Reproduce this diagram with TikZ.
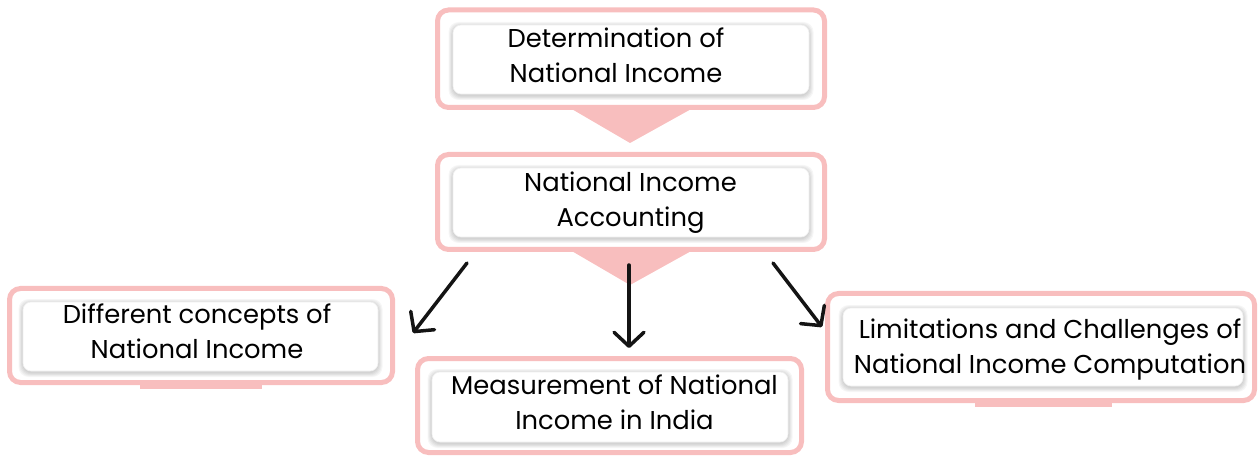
\documentclass[tikz,border=0pt]{standalone}
\usepackage{fontspec}
\setmainfont{Poppins}
\usetikzlibrary{arrows.meta}
\definecolor{pinkc}{RGB}{248,190,190}
\newcommand\myshadowbox[5]{%
  \foreach \k in {1,...,5}{%
    \fill[black,opacity=0.035,rounded corners=10pt]
      (#2-#4/2-\k*0.9, #3-#5/2-\k*0.9+1.5) rectangle (#2+#4/2+\k*0.9, #3+#5/2+\k*0.9+1.5);}
  \node[inbox,minimum width=#4pt,minimum height=#5pt] (#1) at (#2,#3) {};
}
\begin{document}
\begin{tikzpicture}[x=1pt,y=-1pt,
  outbox/.style={draw=pinkc,line width=5pt,rounded corners=11pt,fill=white,inner sep=0pt},
  inbox/.style={draw=black!6,line width=0.6pt,rounded corners=8pt,fill=white,inner sep=0pt},
  lbl/.style={anchor=base,inner sep=0pt,font=\fontsize{25.8}{35}\selectfont},
  tri/.style={fill=pinkc},
  arr/.style={line width=3.5pt,line cap=round,black!92,
    -{Straight Barb[length=14pt,width=30pt,line width=3.5pt,round]}}]
\useasboundingbox (0,0) rectangle (1259,457);
% pointer triangles and bars
\fill[tri] (570,108) -- (693,108) -- (630,143) -- cycle;
\fill[tri] (570,250) -- (693,250) -- (630,285) -- cycle;
\fill[tri] (140,383) rectangle (262,389);
\fill[tri] (975,401) rectangle (1112,407);
% outer boxes
\node[outbox,minimum width=387pt,minimum height=97.5pt] (o1) at (631,58.75) {};
\node[outbox,minimum width=387pt,minimum height=95pt] (o2) at (631,202) {};
\node[outbox,minimum width=383pt,minimum height=94pt] (o3) at (201,335.5) {};
\node[outbox,minimum width=384pt,minimum height=94pt] (o4) at (609.5,405.5) {};
\node[outbox,minimum width=427pt,minimum height=107pt] (o5) at (1041,347) {};
% inner boxes
\myshadowbox{i1}{631}{59.5}{356}{69}
\myshadowbox{i2}{631}{202.5}{356}{69}
\myshadowbox{i3}{200.5}{336.5}{355}{69}
\myshadowbox{i4}{610}{407}{356}{70}
\myshadowbox{i5}{1043}{347}{400}{78}
% labels
\node[lbl] (t1) at (616,48) {\begin{tabular}[t]{@{}c@{}}Determination of\\National Income\end{tabular}};
\node[lbl] (t2) at (630.5,191.5) {\begin{tabular}[t]{@{}c@{}}National Income\\Accounting\end{tabular}};
\node[lbl] (t3) at (197,323.3) {\begin{tabular}[t]{@{}c@{}}Different concepts of\\National Income\end{tabular}};
\node[lbl] (t4) at (614.5,394.3) {\begin{tabular}[t]{@{}c@{}}Measurement of National\\Income in India\end{tabular}};
\node[lbl] (t5) at (1050,338.3) {\begin{tabular}[t]{@{}c@{}}Limitations and Challenges of\\National Income Computation\end{tabular}};
% arrows
\coordinate (a1s) at (467,263);
\coordinate (a1e) at (413,333);
\coordinate (a2s) at (629,265);
\coordinate (a2e) at (629,348);
\coordinate (a3s) at (773,263);
\coordinate (a3e) at (822,327);
\draw[arr] (a1s) -- (a1e);
\draw[arr] (a2s) -- (a2e);
\draw[arr] (a3s) -- (a3e);
\end{tikzpicture}
\end{document}
